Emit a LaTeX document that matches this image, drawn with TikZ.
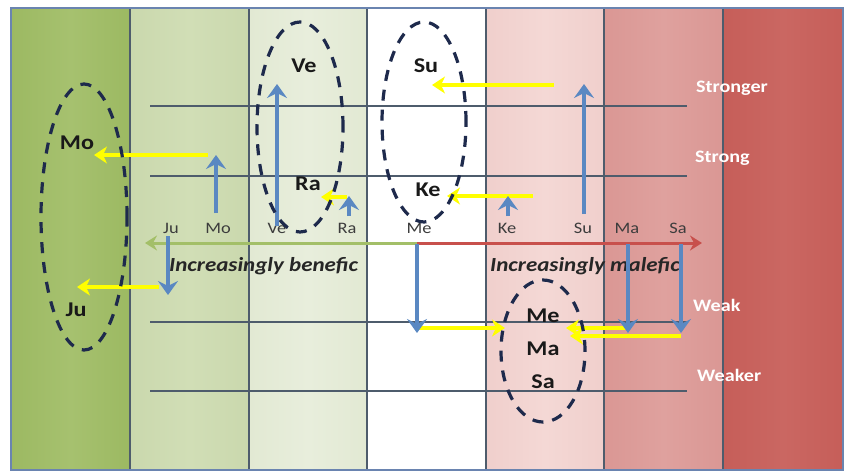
\documentclass[tikz,border=0pt]{standalone}
\usepackage{fontspec}
\setmainfont{Carlito}
\usetikzlibrary{arrows.meta}
\definecolor{cOneE}{HTML}{9CB962}
\definecolor{cOneM}{HTML}{A6C16F}
\definecolor{cTwoE}{HTML}{CAD8AD}
\definecolor{cTwoM}{HTML}{D1DEB6}
\definecolor{cThrE}{HTML}{E2E9D3}
\definecolor{cThrM}{HTML}{E8EEDC}
\definecolor{cFivE}{HTML}{F0CFCC}
\definecolor{cFivM}{HTML}{F4D8D5}
\definecolor{cSixE}{HTML}{DA9794}
\definecolor{cSixM}{HTML}{DFA19E}
\definecolor{cSevE}{HTML}{C65E59}
\definecolor{cSevM}{HTML}{CA6762}
\definecolor{gridc}{HTML}{4E5C6C}
\definecolor{borderc}{HTML}{6A84B0}
\definecolor{bluea}{HTML}{5A88C2}
\definecolor{yellowa}{HTML}{FFFF00}
\definecolor{navy}{HTML}{1E2A4C}
\definecolor{axisgreen}{HTML}{A3BF68}
\definecolor{axisred}{HTML}{C8504C}
\definecolor{labgray}{HTML}{3C3C3C}
\newcommand{\wide}[1]{\scalebox{1.15}[1]{#1}}
\tikzset{
  vline/.style={draw=gridc, line width=1.5pt},
  hline/.style={draw=gridc, line width=1.2pt},
  bluearrow/.style={draw=bluea, line width=3.6pt, -{Stealth[length=14pt,width=20pt,inset=5pt]}},
  yellowarrow/.style={draw=yellowa, line width=4.6pt, -{Stealth[length=13pt,width=17pt,inset=4pt]}},
  ring/.style={draw=navy, line width=3.2pt, dash pattern=on 11pt off 9pt},
  axislab/.style={font=\fontsize{16}{18}\selectfont, text=labgray, inner sep=0pt},
  planet/.style={font=\fontsize{21}{23}\selectfont\bfseries, text=black!90, inner sep=0pt},
  sidelab/.style={font=\fontsize{17.5}{19}\selectfont\bfseries, text=white, anchor=west, inner sep=0pt},
  trend/.style={font=\fontsize{20}{22}\selectfont\bfseries\itshape, text=black!85, anchor=west, inner sep=0pt}
}
\begin{document}
\begin{tikzpicture}[x=1pt,y=-1pt]
\useasboundingbox (0,0) rectangle (846,474);
\fill[white] (0,0) rectangle (846,474);
% columns
\shade[left color=cOneE, right color=cOneE, middle color=cOneM] (11,8) rectangle (130,470);
\shade[left color=cTwoE, right color=cTwoE, middle color=cTwoM] (130,8) rectangle (249,470);
\shade[left color=cThrE, right color=cThrE, middle color=cThrM] (249,8) rectangle (367,470);
\fill[white] (367,8) rectangle (486,470);
\shade[left color=cFivE, right color=cFivE, middle color=cFivM] (486,8) rectangle (604,470);
\shade[left color=cSixE, right color=cSixE, middle color=cSixM] (604,8) rectangle (723,470);
\shade[left color=cSevE, right color=cSevE, middle color=cSevM] (723,8) rectangle (843,470);
% horizontal levels
\draw[hline] (150,106) -- (687,106);
\draw[hline] (150,176) -- (687,176);
\draw[hline] (150,322) -- (687,322);
\draw[hline] (150,391) -- (687,391);
% column separators
\foreach \xx in {130,249,367,486,604,723} \draw[vline] (\xx,8) -- (\xx,470);
\draw[draw=borderc, line width=2pt] (11,8) rectangle (843,470);
% axis
\coordinate (axmid) at (417,243);
\coordinate (axleft) at (145,243);
\coordinate (axright) at (702,243);
\draw[draw=axisgreen, line width=3pt, -{Stealth[length=12pt,width=15pt,inset=4pt]}] (axmid) -- (axleft);
\draw[draw=axisred, line width=3pt, -{Stealth[length=12pt,width=15pt,inset=4pt]}] (axmid) -- (axright);
% axis labels
\node[axislab] (aJu) at (171,228) {\wide{Ju}};
\node[axislab] (aMo) at (218,228) {\wide{Mo}};
\node[axislab] (aVe) at (277,228) {\wide{Ve}};
\node[axislab] (aRa) at (347,228) {\wide{Ra}};
\node[axislab] (aMe) at (419,228) {\wide{Me}};
\node[axislab] (aKe) at (507,228) {\wide{Ke}};
\node[axislab] (aSu) at (583,228) {\wide{Su}};
\node[axislab] (aMa) at (627,228) {\wide{Ma}};
\node[axislab] (aSa) at (678,228) {\wide{Sa}};
% trend texts
\node[trend] (tben) at (169,266) {\wide{Increasingly benefic}};
\node[trend] (tmal) at (490,266) {\wide{Increasingly malefic}};
% side labels
\node[sidelab] (sStronger) at (696,88) {\wide{Stronger}};
\node[sidelab] (sStrong) at (695,158) {\wide{Strong}};
\node[sidelab] (sWeak) at (693,305) {\wide{Weak}};
\node[sidelab] (sWeaker) at (697,375) {\wide{Weaker}};
% planets in rings
\node[planet] (pMo) at (77,143) {\wide{Mo}};
\node[planet] (pJu) at (76,310) {\wide{Ju}};
\node[planet] (pVe) at (304,66) {\wide{Ve}};
\node[planet] (pRa) at (308,184) {\wide{Ra}};
\node[planet] (pSu) at (426,66) {\wide{Su}};
\node[planet] (pKe) at (428,190) {\wide{Ke}};
\node[planet] (pMe) at (543,316) {\wide{Me}};
\node[planet] (pMa) at (543,349) {\wide{Ma}};
\node[planet] (pSa) at (543,382) {\wide{Sa}};
% coordinates for arrows
\coordinate (yMo0) at (208,155); \coordinate (yMo1) at (94,155);
\coordinate (yJu0) at (159,287); \coordinate (yJu1) at (77,287);
\coordinate (ySu0) at (554,85); \coordinate (ySu1) at (432,85);
\coordinate (yKe0) at (533,196); \coordinate (yKe1) at (447,196);
\coordinate (yRa0) at (347,197); \coordinate (yRa1) at (321,197);
\coordinate (yMe0) at (418,328); \coordinate (yMe1) at (505,328);
\coordinate (yMa0) at (628,328); \coordinate (yMa1) at (566,328);
\coordinate (ySa0) at (681,336); \coordinate (ySa1) at (570,336);
% yellow arrows
\foreach \a in {Mo,Ju,Su,Ke,Ra,Me,Ma,Sa} \draw[yellowarrow] (y\a0) -- (y\a1);
% blue arrows
\coordinate (bMo0) at (216,213); \coordinate (bMo1) at (216,155);
\coordinate (bVe0) at (277,226); \coordinate (bVe1) at (277,84);
\coordinate (bRa0) at (349,216); \coordinate (bRa1) at (349,196);
\coordinate (bKe0) at (508,216); \coordinate (bKe1) at (508,196);
\coordinate (bSu0) at (584,214); \coordinate (bSu1) at (584,84);
\coordinate (bJu0) at (168,236); \coordinate (bJu1) at (168,295);
\coordinate (bMe0) at (417,244); \coordinate (bMe1) at (417,333);
\coordinate (bMa0) at (628,244); \coordinate (bMa1) at (628,333);
\coordinate (bSa0) at (681,244); \coordinate (bSa1) at (681,333);
\foreach \a in {Mo,Ve,Ra,Ke,Su,Ju,Me,Ma,Sa} \draw[bluearrow] (b\a0) -- (b\a1);
% dashed rings
\draw[ring] (84,217) ellipse [x radius=43pt, y radius=133pt];
\draw[ring] (300,127) ellipse [x radius=43pt, y radius=105pt];
\draw[ring] (424,122) ellipse [x radius=42pt, y radius=100pt];
\draw[ring] (543,351) ellipse [x radius=42pt, y radius=71pt];
\end{tikzpicture}
\end{document}
